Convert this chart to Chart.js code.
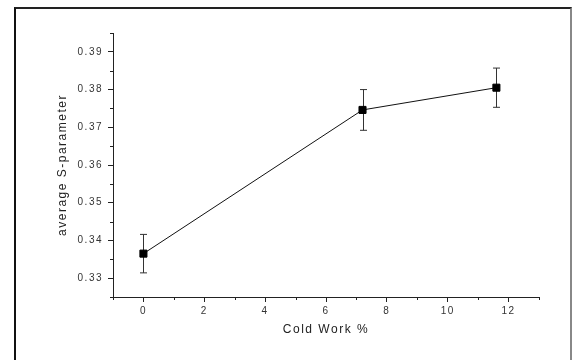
<!DOCTYPE html>
<html>
<head>
<meta charset="utf-8">
<script src="https://cdn.jsdelivr.net/npm/chart.js@4"></script>
<style>
  html, body { margin: 0; padding: 0; background: #fff; }
  #wrap { position: relative; width: 572px; height: 360px; }
  #frame {
    position: absolute; left: 14px; top: 7px; right: 0; bottom: -2px;
    border-left: 2px solid #111; border-top: 2px solid #222; border-right: 2px solid #888;
    pointer-events: none;
  }
</style>
</head>
<body>
<div id="wrap">
  <canvas id="chart" width="572" height="360"></canvas>
  <div id="frame"></div>
</div>
<script>
// データ
var coldWork = [0, 7.2, 11.6];
var sParam = [0.3365, 0.3746, 0.3805];
var sErr = [0.0051, 0.0054, 0.0052];

var xTicks = [0, 2, 4, 6, 8, 10, 12];
var xMinor = [-1, 1, 3, 5, 7, 9, 11, 13];
var yTicks = [0.33, 0.34, 0.35, 0.36, 0.37, 0.38, 0.39];
var yMinor = [0.325, 0.335, 0.345, 0.355, 0.365, 0.375, 0.385, 0.395];

var FONT = '"Liberation Sans", Arial, sans-serif';
var INK = '#222';

//エラーバー・補助目盛
var extras = {
  id: 'extras',
  beforeUpdate: function(chart) {
    chart.ctx.letterSpacing = '1.5px';
  },
  beforeDraw: function(chart) {
    chart.ctx.letterSpacing = '1.5px';
  },
  beforeDatasetsDraw: function(chart) {
    var ctx = chart.ctx;
    var xs = chart.scales.x, ys = chart.scales.y;
    ctx.save();
    ctx.strokeStyle = '#333';
    ctx.lineWidth = 1;
    coldWork.forEach(function(v, i) {
      var px = Math.round(xs.getPixelForValue(v)) + 0.5;
      var top = ys.getPixelForValue(sParam[i] + sErr[i]);
      var bot = ys.getPixelForValue(sParam[i] - sErr[i]);
      ctx.beginPath();
      ctx.moveTo(px, top); ctx.lineTo(px, bot);
      ctx.moveTo(px - 3.5, top); ctx.lineTo(px + 3.5, top);
      ctx.moveTo(px - 3.5, bot); ctx.lineTo(px + 3.5, bot);
      ctx.stroke();
    });
    ctx.restore();
  },
  afterDraw: function(chart) {
    var ctx = chart.ctx;
    var xs = chart.scales.x, ys = chart.scales.y;
    var area = chart.chartArea;
    ctx.save();
    ctx.strokeStyle = INK;
    ctx.lineWidth = 1;
    ctx.beginPath();
    xMinor.forEach(function(v) {
      var px = Math.round(xs.getPixelForValue(v)) + 0.5;
      ctx.moveTo(px, area.bottom); ctx.lineTo(px, area.bottom + 3);
    });
    yMinor.forEach(function(v) {
      var py = Math.round(ys.getPixelForValue(v)) + 0.5;
      ctx.moveTo(area.left, py); ctx.lineTo(area.left - 3, py);
    });
    ctx.stroke();
    ctx.restore();
  }
};

var ctx = document.getElementById('chart');
var chart = new Chart(ctx, {
  type: 'scatter',
  data: {
    datasets: [{
      data: coldWork.map(function(x, i) { return { x: x, y: sParam[i] }; }),
      showLine: true,
      borderColor: '#111',
      borderWidth: 1,
      pointStyle: 'rect',
      pointRadius: 5,
      pointBorderWidth: 1,
      pointBackgroundColor: '#000',
      pointBorderColor: '#000',
    }],
  },
  options: {
    responsive: false,
    animation: false,
    events: [],
    plugins: {
      legend: { display: false },
      tooltip: { enabled: false },
    },
    layout: {
      padding: { left: 0, top: 33, right: 33, bottom: 20 }
    },
    scales: {
      x: {
        type: 'linear',
        min: -1,
        max: 13,
        afterBuildTicks: function(scale) {
          scale.ticks = xTicks.map(function(v) { return { value: v }; });
        },
        afterFit: function(scale) { scale.height = 43; },
        border: { color: INK, width: 1 },
        grid: { drawOnChartArea: false, tickLength: 5, tickColor: INK },
        ticks: {
          color: '#333',
          padding: 3,
          maxRotation: 0,
          font: { family: FONT, size: 10 },
        },
        title: {
          display: true,
          text: 'Cold Work %',
          color: '#222',
          padding: { top: 0, bottom: 3 },
          font: { family: FONT, size: 12 },
        }
      },
      y: {
        min: 0.325,
        max: 0.395,
        afterBuildTicks: function(scale) {
          scale.ticks = yTicks.map(function(v) { return { value: v }; });
        },
        afterFit: function(scale) { scale.width = 113; },
        border: { color: INK, width: 1 },
        grid: { drawOnChartArea: false, tickLength: 5, tickColor: INK },
        ticks: {
          color: '#333',
          padding: 5,
          font: { family: FONT, size: 10 },
          callback: function(v) { return v.toFixed(2); }
        },
        title: {
          display: true,
          text: 'average S-parameter',
          color: '#222',
          padding: { top: 55, bottom: 0 },
          font: { family: FONT, size: 12 },
        }
      }
    }
  },
  plugins: [extras]
});
</script>
</body>
</html>
